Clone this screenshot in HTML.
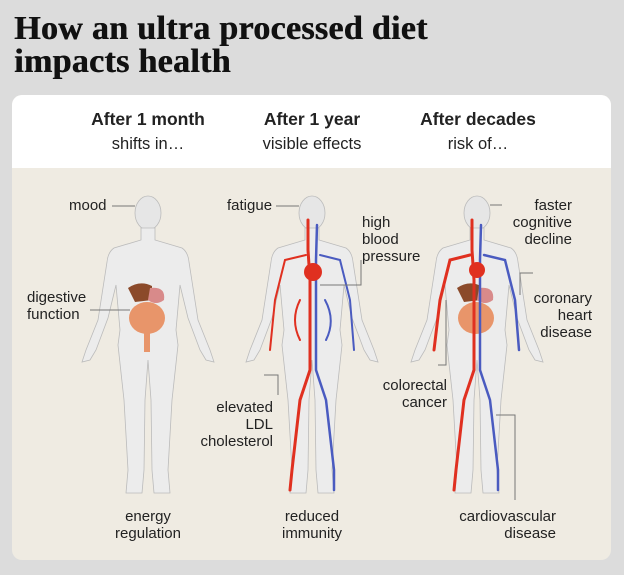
<!DOCTYPE html>
<html><head><meta charset="utf-8"><style>
body{margin:0;width:624px;height:575px;background:#dcdcdc;font-family:"Liberation Sans",sans-serif;position:relative;overflow:hidden}
h1{position:absolute;left:14px;top:12px;margin:0;font-family:"Liberation Serif",serif;font-weight:bold;font-size:34px;line-height:33px;color:#111;letter-spacing:0.3px;text-shadow:0.6px 0 0 #111}
.card{position:absolute;left:12px;top:95px;width:599px;height:465px;border-radius:10px;background:#efebe2;overflow:hidden}
.hd{position:absolute;left:0;top:0;width:100%;height:73px;background:#fff}
.t{position:absolute;color:#222;font-size:15px;line-height:17px}
.b{font-weight:bold;font-size:17.5px}
.c{text-align:center}
.r{text-align:right}
svg{position:absolute;left:0;top:0}
</style></head><body>
<h1>How an ultra processed diet<br>impacts health</h1>
<div class="card"><div class="hd"></div></div>
<svg width="624" height="575">
<defs>
<g id="fig">
<ellipse cx="0" cy="213" rx="13" ry="17" fill="#e6e6e6" stroke="#bbb" stroke-width="0.8"/>
<path d="M-7 228 L-7 240 L-34 248 Q-40 252 -41 262 L-50 320 L-62 350 L-66 362 L-58 360 L-52 350 L-40 318 L-32 285 L-28 330 L-30 345 L-24 400 L-20 470 L-22 493 L-6 493 L-4 470 L-3 400 L0 360 L3 400 L4 470 L6 493 L22 493 L20 470 L24 400 L30 345 L28 330 L32 285 L40 318 L52 350 L58 360 L66 362 L62 350 L50 320 L41 262 Q40 252 34 248 L7 240 L7 228 Z" fill="#ececec" stroke="#bbb" stroke-width="0.8"/>
</g>
</defs>
<use href="#fig" x="148"/>
<use href="#fig" x="312"/>
<use href="#fig" x="477"/>
<path d="M128 288 Q140 280 152 286 L152 300 L135 302 Z" fill="#8b4a2a"/>
<path d="M150 288 Q166 286 164 300 Q156 306 148 300 Z" fill="#d88a8a"/>
<ellipse cx="147" cy="318" rx="18" ry="16" fill="#e8956a"/>
<rect x="144" y="332" width="6" height="20" fill="#e8956a"/>
<path d="M457 288 Q469 280 481 286 L481 300 L464 302 Z" fill="#8b4a2a"/>
<path d="M479 288 Q495 286 493 300 Q485 306 477 300 Z" fill="#d88a8a"/>
<ellipse cx="476" cy="318" rx="18" ry="16" fill="#e8956a"/>
<g fill="none" stroke-linecap="round">
<path d="M308 220 L308 250 L310 280 L310 370 L300 400 L292 470 L290 490" stroke="#e03020" stroke-width="3"/>
<path d="M317 225 L316 260 L316 370 L326 400 L334 470 L334 490" stroke="#4a5bc0" stroke-width="2.5"/>
<path d="M306 255 L285 260 L275 300 L270 350 M300 300 Q290 320 300 340" stroke="#e03020" stroke-width="2"/>
<path d="M320 255 L340 260 L350 300 L354 350 M325 300 Q336 320 326 340" stroke="#4a5bc0" stroke-width="2"/>
<circle cx="313" cy="272" r="9" fill="#e03020"/>
<path d="M472 220 L472 250 L474 280 L474 370 L464 400 L456 470 L454 490 M470 255 L450 260 L440 300 L434 350" stroke="#e03020" stroke-width="3"/>
<path d="M481 225 L480 260 L480 370 L490 400 L498 470 L498 490 M484 255 L505 260 L515 300 L519 350" stroke="#4a5bc0" stroke-width="2.5"/>
<circle cx="477" cy="270" r="8" fill="#e03020"/>
</g>
<g stroke="#777" stroke-width="1" fill="none">
<path d="M112 206 H135"/><path d="M90 310 H130"/>
<path d="M276 206 H299"/><path d="M361 260 V285 H320"/>
<path d="M264 375 H278 V395"/>
<path d="M490 205 H502"/><path d="M533 273 H520 V295"/>
<path d="M438 365 H446 V300"/><path d="M515 500 V415 H496"/>
</g>
</svg>
<div class="t b c" style="left:48px;top:111px;width:200px">After 1 month</div>
<div class="t c" style="left:48px;top:135px;width:200px;font-size:16.5px;line-height:19px">shifts in…</div>
<div class="t b c" style="left:212px;top:111px;width:200px">After 1 year</div>
<div class="t c" style="left:212px;top:135px;width:200px;font-size:16.5px;line-height:19px">visible effects</div>
<div class="t b c" style="left:378px;top:111px;width:200px">After decades</div>
<div class="t c" style="left:378px;top:135px;width:200px;font-size:16.5px;line-height:19px">risk of…</div>
<div class="t" style="left:69px;top:197px">mood</div>
<div class="t" style="left:27px;top:289px">digestive<br>function</div>
<div class="t c" style="left:98px;top:508px;width:100px">energy<br>regulation</div>
<div class="t" style="left:227px;top:197px">fatigue</div>
<div class="t" style="left:362px;top:214px">high<br>blood<br>pressure</div>
<div class="t r" style="left:173px;top:399px;width:100px">elevated<br>LDL<br>cholesterol</div>
<div class="t c" style="left:262px;top:508px;width:100px">reduced<br>immunity</div>
<div class="t r" style="left:472px;top:197px;width:100px">faster<br>cognitive<br>decline</div>
<div class="t r" style="left:492px;top:290px;width:100px">coronary<br>heart<br>disease</div>
<div class="t r" style="left:347px;top:377px;width:100px">colorectal<br>cancer</div>
<div class="t r" style="left:426px;top:508px;width:130px">cardiovascular<br>disease</div>
</body></html>
